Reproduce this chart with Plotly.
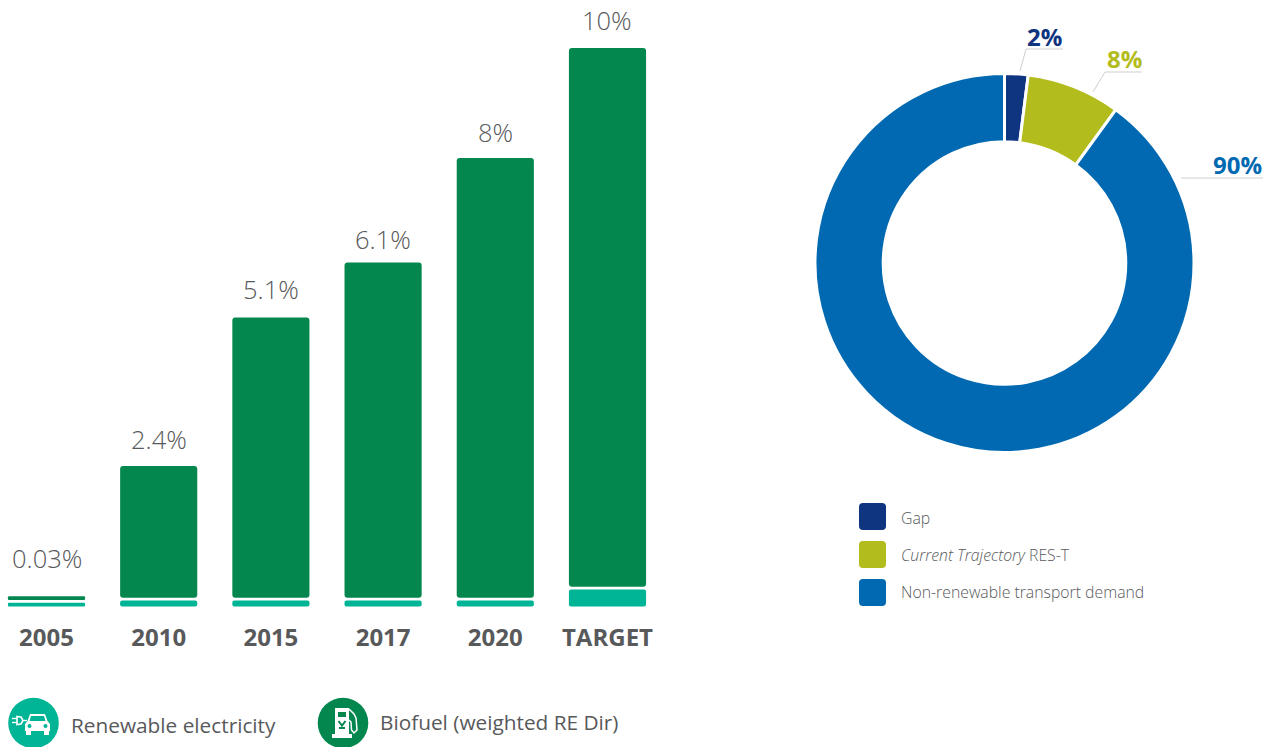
import plotly.graph_objects as go

# Renewable share of transport energy, by year
years = ["2005", "2010", "2015", "2017", "2020", "TARGET"]
share_labels = ["0.03%", "2.4%", "5.1%", "6.1%", "8%", "10%"]
total_share = [0.03, 2.4, 5.1, 6.1, 8, 10]
electricity_share = [0.07, 0.11, 0.11, 0.11, 0.11, 0.31]

# Composition of transport demand against the target
demand_names = ["Gap", "<i>Current Trajectory</i> RES-T", "Non-renewable transport demand"]
demand_values = [2, 8, 90]
demand_labels = ["2%", "8%", "90%"]

GREEN = "#03874F"
TEAL = "#00B496"
NAVY = "#0F3480"
OLIVE = "#B2BC1C"
BLUE = "#0069B1"
TEXT = "#58595B"
LEADER = "#CFCFCF"
W, H = 1269, 747
FONT = "Open Sans"


def px(x):
    return x / W


def py(y):
    return 1 - y / H


def path_shape(points, fill=None, line=None, width=0, close=True):
    d = "M " + " L ".join(f"{px(x):.5f},{py(y):.5f}" for x, y in points) + (" Z" if close else "")
    return dict(type="path", xref="paper", yref="paper", path=d,
                fillcolor=fill if fill else "rgba(0,0,0,0)",
                line=dict(color=line if line else "rgba(0,0,0,0)", width=width))


def box(x0, y0, x1, y1, fill):
    return dict(type="rect", xref="paper", yref="paper", x0=px(x0), x1=px(x1), y0=py(y0), y1=py(y1),
                fillcolor=fill, line=dict(width=0))


def disc(cx, cy, rx, ry, fill):
    return dict(type="circle", xref="paper", yref="paper", x0=px(cx - rx), x1=px(cx + rx),
                y0=py(cy - ry), y1=py(cy + ry), fillcolor=fill, line=dict(width=0))


def rounded_square(x0, y0, x1, y1, r, fill):
    def p(x, y):
        return f"{px(x):.5f},{py(y):.5f}"
    d = (f"M {p(x0 + r, y0)} L {p(x1 - r, y0)} Q {p(x1, y0)} {p(x1, y0 + r)} "
         f"L {p(x1, y1 - r)} Q {p(x1, y1)} {p(x1 - r, y1)} "
         f"L {p(x0 + r, y1)} Q {p(x0, y1)} {p(x0, y1 - r)} "
         f"L {p(x0, y0 + r)} Q {p(x0, y0)} {p(x0 + r, y0)} Z")
    return dict(type="path", xref="paper", yref="paper", path=d, fillcolor=fill, line=dict(width=0))


def text(x, y, s, size, color, anchor="left", bold=False, weight=None):
    return dict(xref="paper", yref="paper", x=px(x), y=py(y), text=s, showarrow=False, xanchor=anchor,
                yanchor="middle", align=anchor,
                font=dict(family=FONT, size=size, color=color, weight=weight or (700 if bold else 400)))


# Electricity sits under the axis zero line, biofuel stacks above it up to the stated total
electricity_base = -0.155
segment_gap = 0.05
biofuel_base = [electricity_base + e + segment_gap for e in electricity_share]
biofuel_height = [t - b for t, b in zip(total_share, biofuel_base)]

fig = go.Figure()
fig.add_bar(x=years, y=electricity_share, base=electricity_base, width=0.6875, name="Renewable electricity",
            marker=dict(color=TEAL, cornerradius=2, line=dict(width=0)), xaxis="x", yaxis="y")
fig.add_bar(x=years, y=biofuel_height, base=biofuel_base, width=0.6875, name="Biofuel (weighted RE Dir)",
            marker=dict(color=GREEN, cornerradius=3, line=dict(width=0)), xaxis="x", yaxis="y")

fig.add_pie(labels=demand_names, values=demand_values, sort=False, direction="clockwise", rotation=0,
            hole=0.64, textinfo="none", showlegend=False,
            marker=dict(colors=[NAVY, OLIVE, BLUE], line=dict(color="white", width=3)),
            domain=dict(x=[px(815), px(1194)], y=[py(452.5), py(73.5)]))

annotations = []
# Value labels above the bars; the 2005 label sits higher to clear the thin bar below it
label_lift = [38, 27, 29, 24, 26, 28]
for i, (label, total, lift) in enumerate(zip(share_labels, total_share, label_lift)):
    annotations.append(dict(x=i, y=total, xref="x", yref="y", text=label, showarrow=False, yshift=lift,
                            xanchor="center", yanchor="middle",
                            font=dict(family=FONT, size=25.5, color=TEXT, weight=300)))

# Donut value labels and their leader lines
shapes = []
leader_lines = [[(1020, 71), (1026, 49), (1063, 49)],
                [(1093, 92), (1105, 72), (1142, 72)],
                [(1181, 178), (1263, 178)]]
for pts in leader_lines:
    shapes.append(path_shape(pts, line=LEADER, width=1, close=False))
label_places = [(1044.5, 36), (1124, 59), (1237.5, 164.5)]
for (x, y), label, colour in zip(label_places, demand_labels, [NAVY, OLIVE, BLUE]):
    annotations.append(text(x, y, label, 24, colour, anchor="center", bold=True))

# Donut legend
for (y0, y1), colour, name, ty in zip([(503, 530), (541, 568), (579, 606)], [NAVY, OLIVE, BLUE], demand_names, [518, 555, 592]):
    shapes.append(rounded_square(859, y0, 886, y1, 4, colour))
    annotations.append(text(899, ty, name, 15.8, TEXT, weight=300))

# Bar legend badges: a car with a plug and a fuel pump, drawn as small white glyphs
shapes.append(disc(33.5, 723, 25.3, 25.3, TEAL))
shapes.append(path_shape([(30, 714), (45, 714), (47.5, 721), (50, 724), (50, 731), (25, 731), (25, 724), (27.5, 721)], fill="white"))
shapes.append(path_shape([(31, 716), (44, 716), (45.5, 721), (29.5, 721)], fill=TEAL))
shapes.append(box(26, 731, 31, 735, "white"))
shapes.append(box(44, 731, 49, 735, "white"))
shapes.append(disc(29.5, 726, 2, 2, TEAL))
shapes.append(disc(45.5, 726, 2, 2, TEAL))
shapes.append(path_shape([(17, 716.5), (21, 717), (23, 720.5), (21, 724), (17, 724.5)], line="white", width=1.6))
shapes.append(path_shape([(12, 718.5), (17, 718.5)], line="white", width=1.4, close=False))
shapes.append(path_shape([(12, 722.5), (17, 722.5)], line="white", width=1.4, close=False))
shapes.append(path_shape([(23, 720.5), (27, 720.5)], line="white", width=1.4, close=False))

shapes.append(disc(343, 723, 25.3, 25.3, GREEN))
shapes.append(box(335, 708, 349, 734, "white"))
shapes.append(box(332, 734, 352, 738, "white"))
shapes.append(box(338, 712, 346, 717, GREEN))
shapes.append(path_shape([(338.5, 721), (342, 725.5), (345.5, 721)], line=GREEN, width=2, close=False))
shapes.append(box(339, 727, 345, 729, GREEN))
shapes.append(path_shape([(349, 709), (354, 714), (356, 718), (357, 730), (354, 733), (351.5, 730), (351, 722), (349, 720)],
                         line="white", width=1.5, close=False))
annotations.append(text(69, 725, "Renewable electricity", 20.8, TEXT))
annotations.append(text(378, 722, "Biofuel (weighted RE Dir)", 20.8, TEXT))

fig.update_layout(
    width=W, height=H, margin=dict(l=0, r=0, t=0, b=0), autosize=False,
    paper_bgcolor="white", plot_bgcolor="white", showlegend=False, barmode="overlay",
    xaxis=dict(domain=[0, px(660)], range=[-0.4144, 5.468], type="category", categoryorder="array", categoryarray=years,
               showgrid=False, zeroline=False, showline=False, ticks="", ticklabelstandoff=-1,
               tickfont=dict(family=FONT, size=24, color=TEXT, weight=700)),
    yaxis=dict(domain=[py(622), 1], range=[-24 / 55, 598 / 55], visible=False),
    shapes=shapes, annotations=annotations,
)

fig.write_html("out.html")
